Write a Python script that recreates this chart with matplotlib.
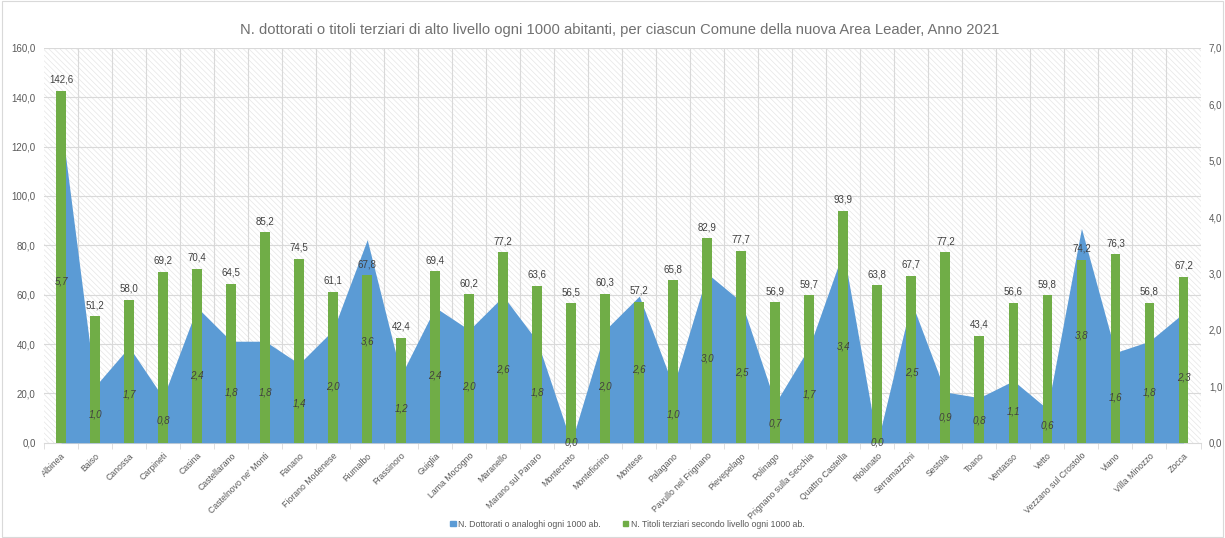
import numpy as np
import matplotlib
matplotlib.use("Agg")
import matplotlib.pyplot as plt
from matplotlib.patches import Rectangle

comuni = [
    "Albinea", "Baiso", "Canossa", "Carpineti", "Casina", "Castellarano",
    "Castelnovo ne' Monti", "Fanano", "Fiorano Modenese", "Fiumalbo",
    "Frassinoro", "Guiglia", "Lama Mocogno", "Maranello", "Marano sul Panaro",
    "Montecreto", "Montefiorino", "Montese", "Palagano", "Pavullo nel Frignano",
    "Pievepelago", "Polinago", "Prignano sulla Secchia", "Quattro Castella",
    "Riolunato", "Serramazzoni", "Sestola", "Toano", "Ventasso", "Vetto",
    "Vezzano sul Crostolo", "Viano", "Villa Minozzo", "Zocca",
]
# titoli terziari di secondo livello ogni 1000 ab. (asse sinistro)
titoli_terziari = [
    142.6, 51.2, 58.0, 69.2, 70.4, 64.5, 85.2, 74.5, 61.1, 67.8,
    42.4, 69.4, 60.2, 77.2, 63.6, 56.5, 60.3, 57.2, 65.8, 82.9,
    77.7, 56.9, 59.7, 93.9, 63.8, 67.7, 77.2, 43.4, 56.6, 59.8,
    74.2, 76.3, 56.8, 67.2,
]
# dottorati o analoghi ogni 1000 ab. (asse destro)
dottorati = [
    5.7, 1.0, 1.7, 0.8, 2.4, 1.8, 1.8, 1.4, 2.0, 3.6,
    1.2, 2.4, 2.0, 2.6, 1.8, 0.0, 2.0, 2.6, 1.0, 3.0,
    2.5, 0.7, 1.7, 3.4, 0.0, 2.5, 0.9, 0.8, 1.1, 0.6,
    3.8, 1.6, 1.8, 2.3,
]
titolo = ("N. dottorati o titoli terziari di alto livello ogni 1000 abitanti, "
          "per ciascun Comune della nuova Area Leader, Anno 2021")
lab_dott = "N. Dottorati o analoghi ogni 1000 ab."
lab_tit = "N. Titoli terziari secondo livello ogni 1000 ab."

BLU = "#5B9BD5"
VERDE = "#70AD47"
GRIGIO = "#595959"
GRID = "#d9d9d9"

plt.rcParams["font.family"] = ["Liberation Sans", "DejaVu Sans"]
plt.rcParams["hatch.color"] = "#e6e6e6"
plt.rcParams["hatch.linewidth"] = 0.5


def fmt(v):
    return f"{v:.1f}".replace(".", ",")


x = np.arange(len(comuni))
pos = [0.036, 0.177, 0.944, 0.734]

fig = plt.figure(figsize=(12.25, 5.38), dpi=100)
fig.patches.append(Rectangle((0.002, 0.002), 0.996, 0.996, transform=fig.transFigure,
                             fill=False, edgecolor="#d9d9d9", linewidth=0.8))

# asse di fondo: sfondo tratteggiato, griglia, tick di sinistra
ax = fig.add_axes(pos)
ax.set_facecolor("white")
ax.add_patch(Rectangle((0, 0), 1, 1, transform=ax.transAxes, facecolor="white",
                       hatch="\\\\\\\\\\\\", edgecolor="#e6e6e6", linewidth=0, zorder=0))
ax.set_xlim(-0.5, len(comuni) - 0.5)
ax.set_ylim(0, 160)
ax.set_yticks(np.arange(0, 161, 20))
ax.set_yticklabels([fmt(v) for v in np.arange(0, 161, 20)])
ax.set_xticks(x)
ax.set_xticklabels(comuni, rotation=45, ha="right", rotation_mode="anchor")
ax.set_xticks(np.arange(-0.5, len(comuni), 1), minor=True)
ax.tick_params(axis="x", which="major", length=0, labelsize=6.3, colors=GRIGIO, pad=6)
ax.tick_params(axis="x", which="minor", length=4, color=GRID)
ax.tick_params(axis="y", length=0, labelsize=7, colors=GRIGIO, pad=6)
for v in np.arange(20, 161, 20):
    ax.axhline(v, color=GRID, linewidth=0.8, zorder=1)
for b in np.arange(0.5, len(comuni) - 1, 1):
    ax.axvline(b, color=GRID, linewidth=0.8, zorder=1)
for s in ["top", "left", "right"]:
    ax.spines[s].set_visible(False)
ax.spines["bottom"].set_color(GRID)

# area dei dottorati sull'asse destro
ax2 = ax.twinx()
ax2.set_ylim(0, 7)
ax2.set_yticks(np.arange(0, 8, 1))
ax2.set_yticklabels([fmt(v) for v in np.arange(0, 8, 1)])
ax2.tick_params(axis="y", length=0, labelsize=7, colors=GRIGIO, pad=6)
ax2.fill_between(x, 0, dottorati, color=BLU, linewidth=0, zorder=2)
for s in ax2.spines.values():
    s.set_visible(False)

# barre dei titoli terziari sopra l'area
ax3 = fig.add_axes(pos, sharex=ax, sharey=ax)
ax3.patch.set_visible(False)
ax3.axis("off")
ax3.bar(x, titoli_terziari, width=0.29, color=VERDE, zorder=3)
for xi, v in zip(x, titoli_terziari):
    ax3.text(xi, v + 2.5, fmt(v), ha="center", va="bottom", fontsize=7, color="#404040")
for xi, v in zip(x, dottorati):
    ax3.annotate(fmt(v), xy=(xi, v / 2), xycoords=ax2.transData, ha="center", va="center",
                 fontsize=7, fontstyle="italic", color="#404040", annotation_clip=False)

fig.text(0.506, 0.944, titolo, ha="center", va="center", fontsize=10.6, color="#707070")

handles = [Rectangle((0, 0), 1, 1, color=BLU), Rectangle((0, 0), 1, 1, color=VERDE)]
fig.legend(handles, [lab_dott, lab_tit], loc="center", bbox_to_anchor=(0.512, 0.026),
           ncol=2, frameon=False, fontsize=6.3, labelcolor=GRIGIO, handlelength=0.6,
           handleheight=0.6, handletextpad=0.3, columnspacing=2.5)

fig.savefig("out.png", dpi=100)
